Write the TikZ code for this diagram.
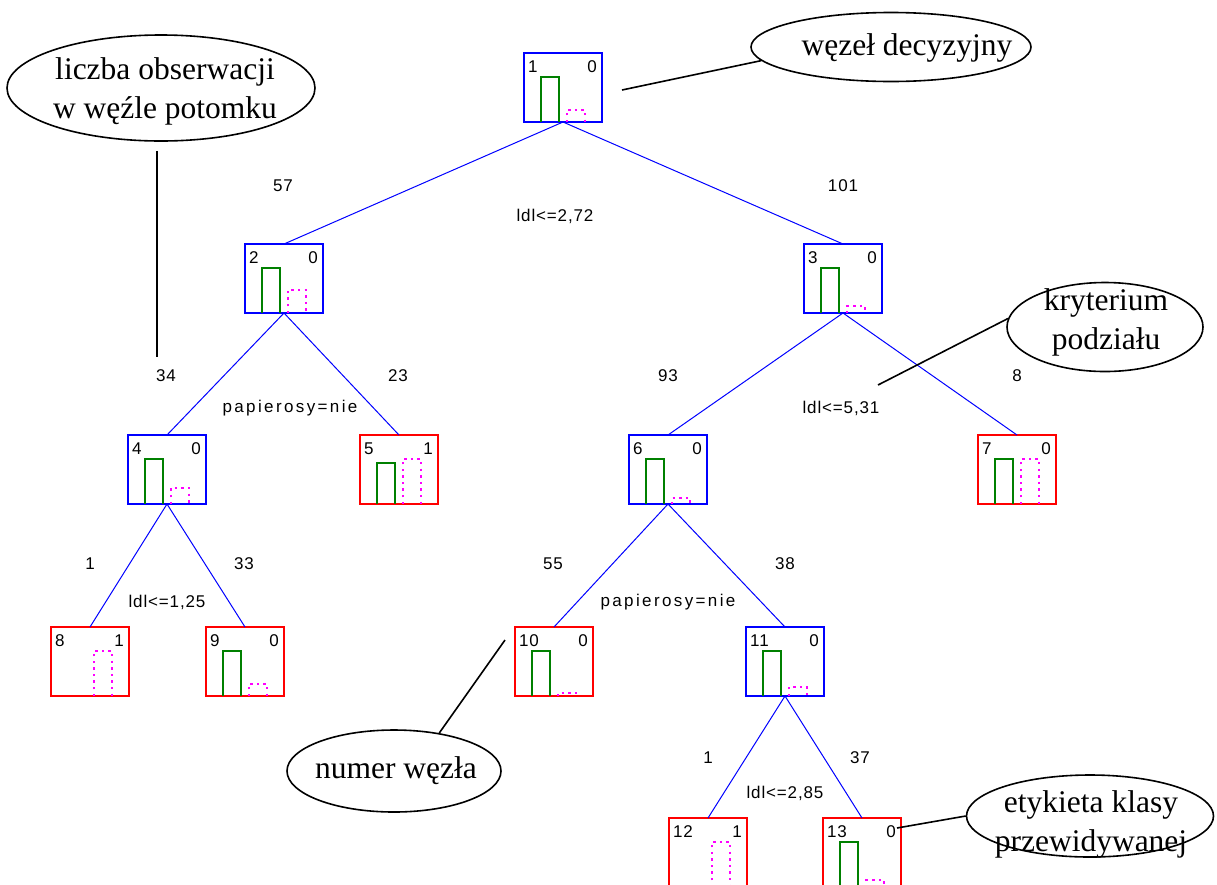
\documentclass[tikz,border=0pt]{standalone}
\usepackage{fontspec}
\setmainfont{Liberation Serif}
\setsansfont{Liberation Sans}
\newfontfamily\lblfont{Liberation Sans}[LetterSpace=5]
\newfontfamily\lblwide{Liberation Sans}[LetterSpace=14]
\usetikzlibrary{shapes.geometric}

\definecolor{boxblue}{RGB}{0,0,255}
\definecolor{boxred}{RGB}{255,0,0}
\definecolor{bargreen}{RGB}{0,128,0}
\definecolor{barmag}{RGB}{255,0,255}

\tikzset{
  tbox/.style={draw, line width=2pt, minimum width=78pt, minimum height=69pt,
    inner sep=0pt, outer sep=0pt, anchor=north west},
  numlbl/.style={font=\lblfont\fontsize{17}{17}\selectfont, inner sep=0pt},
  edge/.style={draw=boxblue, line width=1pt},
  elbl/.style={font=\lblfont\fontsize{17}{17}\selectfont, inner sep=0pt},
  elblwide/.style={font=\lblwide\fontsize{17}{17}\selectfont, inner sep=0pt},
  gbar/.style={draw=bargreen, line width=2pt},
  mbar/.style={draw=barmag, line width=2.4pt, dash pattern=on 2.4pt off 4.2pt},
  annot/.style={draw=black, line width=1.6pt, ellipse, inner sep=0pt},
  anntext/.style={font=\fontsize{31.5}{39}\selectfont, align=center, inner sep=0pt},
  annline/.style={draw=black, line width=1.6pt},
}

% tree box: name, left, top, colour, node number, class, class-0 bar, class-1 bar
\newcommand\treebox[8]{%
  \node[tbox, draw=#4] (#1) at (#2,#3) {};
  \node[numlbl, anchor=west] (#1id) at ([xshift=4pt,yshift=-14pt]#1.north west) {#5};
  \node[numlbl, anchor=east] (#1cls) at ([xshift=-5pt,yshift=-14pt]#1.north east) {#6};
  \ifdim#7pt>0pt
    \draw[gbar] ([xshift=17pt]#1.south west) -- ++(0,-#7) -- ++(18,0) -- ++(0,#7);
  \fi
  \draw[mbar] ([xshift=43pt]#1.south west) -- ++(0,-#8) -- ++(18,0) -- ++(0,#8);
}

\begin{document}
\begin{tikzpicture}[x=1pt,y=-1pt]
\path[use as bounding box, fill=white] (0,0) rectangle (1217,884);
\clip (0,0) rectangle (1217,884);

% decision tree
\treebox{n1}{524}{53}{boxblue}{1}{0}{45}{12}
\treebox{n2}{245}{244}{boxblue}{2}{0}{45}{23}
\treebox{n3}{804}{244}{boxblue}{3}{0}{45}{7}
\treebox{n4}{128}{435}{boxblue}{4}{0}{45}{16}
\treebox{n5}{360}{435}{boxred}{5}{1}{41}{45}
\treebox{n6}{629}{435}{boxblue}{6}{0}{45}{6}
\treebox{n7}{978}{435}{boxred}{7}{0}{45}{45}
\treebox{n8}{51}{627}{boxred}{8}{1}{0}{45}
\treebox{n9}{206}{627}{boxred}{9}{0}{45}{12}
\treebox{n10}{515}{627}{boxred}{10}{0}{45}{3}
\treebox{n11}{746}{627}{boxblue}{11}{0}{45}{9}
\treebox{n12}{669}{818}{boxred}{12}{1}{0}{45}
\treebox{n13}{823}{818}{boxred}{13}{0}{45}{7}

\draw[edge] (n1.south) -- (n2.north);
\draw[edge] (n1.south) -- (n3.north);
\draw[edge] (n2.south) -- (n4.north);
\draw[edge] (n2.south) -- (n5.north);
\draw[edge] (n3.south) -- (n6.north);
\draw[edge] (n3.south) -- (n7.north);
\draw[edge] (n4.south) -- (n8.north);
\draw[edge] (n4.south) -- (n9.north);
\draw[edge] (n6.south) -- (n10.north);
\draw[edge] (n6.south) -- (n11.north);
\draw[edge] (n11.south) -- (n12.north);
\draw[edge] (n11.south) -- (n13.north);

% branch counts and split rules
\node[elbl] (c2) at (283,186) {57};
\node[elbl] (c3) at (843,186) {101};
\node[elbl] (s1) at (555,216) {ldl<=2,72};
\node[elbl] (c4) at (166,376) {34};
\node[elbl] (c5) at (398,376) {23};
\node[elblwide] (s2) at (290,408) {papierosy=nie};
\node[elbl] (c6) at (668,376) {93};
\node[elbl] (c7) at (1017,376) {8};
\node[elbl] (s3) at (841,408) {ldl<=5,31};
\node[elbl] (c8) at (90,564) {1};
\node[elbl] (c9) at (244,564) {33};
\node[elbl] (s4) at (167,602) {ldl<=1,25};
\node[elbl] (c10) at (553,564) {55};
\node[elbl] (c11) at (785,564) {38};
\node[elblwide] (s6) at (668,602) {papierosy=nie};
\node[elbl] (c12) at (708,758) {1};
\node[elbl] (c13) at (860,758) {37};
\node[elbl] (s11) at (785,793) {ldl<=2,85};

% annotations
\node[annot, minimum width=308pt, minimum height=106pt] (annA) at (161,88) {};
\node[anntext] (annAtxt) at (165,91) {liczba obserwacji\\w węźle potomku};
\node[annot, minimum width=280pt, minimum height=69pt] (annB) at (891,47) {};
\node[anntext, anchor=base] (annBtxt) at (907,55) {węzeł decyzyjny};
\node[annot, minimum width=196pt, minimum height=89pt] (annC) at (1105,327) {};
\node[anntext] (annCtxt) at (1106,322) {kryterium\\podziału};
\node[annot, minimum width=214pt, minimum height=82pt] (annD) at (394,771) {};
\node[anntext, anchor=base] (annDtxt) at (396,778) {numer węzła};
\node[annot, minimum width=247pt, minimum height=82pt] (annE) at (1090,816) {};
\node[anntext] (annEtxt) at (1091,824) {etykieta klasy\\przewidywanej};

\coordinate (endA) at (157,357);
\coordinate (endB) at (622,90);
\coordinate (endC) at (878,385);
\coordinate (endD) at (505,640);
\coordinate (endE) at (897,828);

\draw[annline, shorten <=9pt] (annA.south -| endA) -- (endA);
\draw[annline] (annB.186) -- (endB);
\draw[annline] (annC.175) -- (endC);
\draw[annline] (annD.40) -- (endD);
\draw[annline] (annE.west) -- (endE);
\end{tikzpicture}
\end{document}
